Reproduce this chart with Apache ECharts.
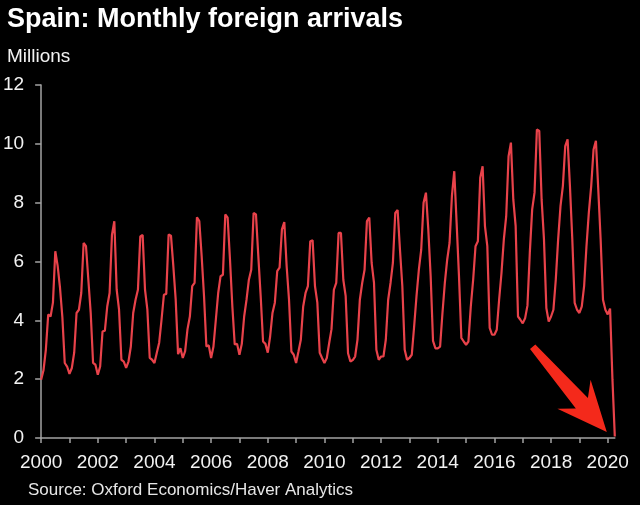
<!DOCTYPE html>
<html><head><meta charset="utf-8">
<script src="https://cdn.jsdelivr.net/npm/echarts/dist/echarts.min.js"></script>
<style>html,body{margin:0;padding:0;background:#000;}#chart{width:640px;height:505px;}</style>
</head><body><div id="chart"></div>
<script>
// Monthly foreign arrivals to Spain, millions (Jan..Dec)
const startYear = 2000;
const y2000 = [1.98, 2.3, 3.0, 4.2, 4.13, 4.6, 6.35, 5.85, 5.1, 4.1, 2.55, 2.43];
const y2001 = [2.18, 2.38, 2.9, 4.25, 4.36, 4.93, 6.63, 6.52, 5.38, 4.25, 2.55, 2.49];
const y2002 = [2.15, 2.43, 3.62, 3.65, 4.47, 4.93, 6.9, 7.37, 5.04, 4.36, 2.66, 2.6];
const y2003 = [2.38, 2.6, 3.11, 4.25, 4.7, 5.04, 6.85, 6.9, 5.04, 4.36, 2.72, 2.66];
const y2004 = [2.55, 2.9, 3.24, 4.02, 4.87, 4.9, 6.92, 6.88, 5.84, 4.7, 2.85, 3.05];
const y2005 = [2.72, 2.95, 3.7, 4.13, 5.16, 5.27, 7.5, 7.37, 6.18, 4.82, 3.11, 3.15];
const y2006 = [2.72, 3.11, 4.02, 4.93, 5.5, 5.55, 7.6, 7.49, 6.06, 4.47, 3.18, 3.2];
const y2007 = [2.83, 3.2, 4.13, 4.7, 5.38, 5.72, 7.65, 7.6, 6.18, 4.82, 3.28, 3.2];
const y2008 = [2.9, 3.45, 4.25, 4.6, 5.67, 5.79, 7.09, 7.34, 5.84, 4.7, 2.94, 2.83];
const y2009 = [2.55, 2.94, 3.34, 4.47, 4.93, 5.16, 6.69, 6.72, 5.16, 4.6, 2.9, 2.72];
const y2010 = [2.55, 2.72, 3.22, 3.7, 5.04, 5.27, 6.97, 6.97, 5.38, 4.82, 2.88, 2.6];
const y2011 = [2.65, 2.77, 3.34, 4.7, 5.27, 5.72, 7.37, 7.49, 5.95, 5.27, 3.0, 2.66];
const y2012 = [2.77, 2.77, 3.34, 4.7, 5.27, 5.95, 7.65, 7.75, 6.4, 5.16, 3.0, 2.66];
const y2013 = [2.72, 2.83, 3.79, 4.82, 5.72, 6.4, 8.0, 8.34, 7.09, 5.5, 3.3, 3.05];
const y2014 = [3.05, 3.11, 4.25, 5.27, 6.06, 6.63, 8.22, 9.07, 7.31, 5.5, 3.4, 3.28];
const y2015 = [3.17, 3.28, 4.47, 5.38, 6.52, 6.69, 8.85, 9.24, 7.2, 6.52, 3.74, 3.51];
const y2016 = [3.51, 3.68, 4.7, 5.61, 6.75, 7.54, 9.58, 10.04, 8.11, 7.2, 4.13, 4.02];
const y2017 = [3.9, 4.07, 4.5, 6.3, 7.77, 8.34, 10.49, 10.44, 8.11, 6.75, 4.42, 3.96];
const y2018 = [4.13, 4.36, 5.38, 6.75, 7.88, 8.56, 9.92, 10.15, 8.56, 6.75, 4.59, 4.36];
const y2019 = [4.25, 4.47, 5.16, 6.52, 7.66, 8.56, 9.81, 10.1, 8.45, 6.75, 4.7, 4.36];
const y2020 = [4.2, 4.4, 2.0, 0.05];

const yearlySeries = [y2000, y2001, y2002, y2003, y2004, y2005, y2006, y2007, y2008, y2009, y2010,
  y2011, y2012, y2013, y2014, y2015, y2016, y2017, y2018, y2019, y2020];

const categories = [];
const values = [];
yearlySeries.forEach((arr, yi) => {
  arr.forEach((v, m) => {
    categories.push((startYear + yi) + '-' + String(m + 1).padStart(2, '0'));
    values.push(v);
  });
});

const yTicks = { min: 0, max: 12, interval: 2 };
const FONT = 'Liberation Sans, Arial, sans-serif';
const axisColor = '#a3a3a3';
const textColor = '#f2f2f2';

const chart = echarts.init(document.getElementById('chart'), null, { renderer: 'canvas' });
chart.setOption({
  backgroundColor: '#000',
  animation: false,
  title: [
    { text: 'Spain: Monthly foreign arrivals', left: 7, top: 6, padding: 0,
      textStyle: { color: '#ffffff', fontSize: 27, fontWeight: 'bold', fontFamily: FONT } },
    { text: 'Millions', left: 7, top: 47, padding: 0,
      textStyle: { color: textColor, fontSize: 19, fontWeight: 'normal', fontFamily: FONT } },
    { text: 'Source: Oxford Economics/Haver Analytics', left: 28, top: 482, padding: 0,
      textStyle: { color: '#e6e6e6', fontSize: 17, fontWeight: 'normal', fontFamily: FONT } }
  ],
  grid: { left: 39, right: 25.2, top: 85, bottom: 67 },
  xAxis: {
    type: 'category',
    data: categories,
    boundaryGap: false,
    axisLine: { lineStyle: { color: axisColor, width: 1.5 } },
    axisTick: { show: true, length: 5, interval: (i) => i % 12 === 0, lineStyle: { color: axisColor, width: 1.5 } },
    axisLabel: { interval: (i) => i % 24 === 0, formatter: (v) => v.slice(0, 4), color: textColor,
      fontSize: 19, fontFamily: FONT, margin: 15 },
    splitLine: { show: false }
  },
  yAxis: {
    type: 'value',
    min: yTicks.min, max: yTicks.max, interval: yTicks.interval,
    axisLine: { show: true, lineStyle: { color: axisColor, width: 1.5 } },
    axisTick: { show: true, length: 6, lineStyle: { color: axisColor, width: 1.5 } },
    axisLabel: { color: textColor, fontSize: 19, fontFamily: FONT, margin: 17 },
    splitLine: { show: false }
  },
  series: [{
    type: 'line',
    data: values,
    showSymbol: false,
    smooth: false,
    lineStyle: { color: '#e8424a', width: 2.2 },
    itemStyle: { color: '#e8424a' }
  }]
});

// Annotation arrow pointing at the latest data point
const lastIdx = values.length - 1;
const end = chart.convertToPixel({ xAxisIndex: 0, yAxisIndex: 0 }, [lastIdx, 0]);
const tip = [end[0] - 8, end[1] - 6];
const d = [0.656, 0.754];
const n = [-0.754, 0.656];
const P = (s, w) => [tip[0] + s * d[0] + w * n[0], tip[1] + s * d[1] + w * n[1]];
chart.setOption({
  graphic: [{
    type: 'polygon',
    shape: { points: [P(-113, 3.5), P(-38, 8), P(-50, 22), P(0, 0), P(-50, -22), P(-38, -8), P(-113, -3.5)] },
    style: { fill: '#f4291b' },
    z: 10
  }]
});
</script>
</body></html>
